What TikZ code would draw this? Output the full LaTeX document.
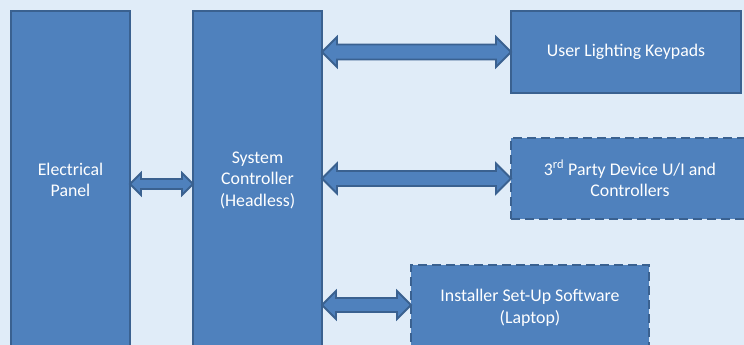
\documentclass[tikz,border=0pt]{standalone}
\usepackage{fontspec}
\setmainfont{Carlito}
\usetikzlibrary{calc}
\definecolor{bg}{HTML}{E0ECF8}
\definecolor{boxfill}{HTML}{4F81BD}
\definecolor{boxline}{HTML}{3A6190}
\newcommand\dblarrow[5]{%
  \draw[arr] let \p1=#1, \p2=#2 in
    (\x1,\y1) -- ({\x1+#5pt},{\y1+#4pt}) -- ({\x1+#5pt},{\y1+#3pt})
    -- ({\x2-#5pt},{\y1+#3pt}) -- ({\x2-#5pt},{\y1+#4pt}) -- (\x2,\y1)
    -- ({\x2-#5pt},{\y1-#4pt}) -- ({\x2-#5pt},{\y1-#3pt})
    -- ({\x1+#5pt},{\y1-#3pt}) -- ({\x1+#5pt},{\y1-#4pt}) -- cycle;}
\begin{document}
\begin{tikzpicture}[x=1pt,y=-1pt,
  blk/.style={fill=boxfill,draw=boxline,line width=2.8pt,text=white,
    font=\fontsize{17.8}{21.5}\selectfont,align=center,inner sep=0pt,
    outer sep=0pt,anchor=north west},
  dsh/.style={dash pattern=on 9pt off 5pt},
  arr/.style={fill=boxfill,draw=boxline,line width=1.8pt,line join=miter}]
\fill[bg] (0,0) rectangle (744,345);
\useasboundingbox (0,0) rectangle (744,345);
\begin{scope}
\clip (0,0) rectangle (744,345);
\node[blk,minimum width=119pt,minimum height=338pt] (ep) at (11,11) {Electrical\\Panel};
\node[blk,minimum width=129pt,minimum height=338pt] (sc) at (193,11) {System\\Controller\\(Headless)};
\node[blk,minimum width=230pt,minimum height=82pt] (ulk) at (511,11) {User Lighting Keypads};
\node[blk,dsh,minimum width=238pt,minimum height=81pt] (tp) at (511,138) {3\textsuperscript{rd} Party Device U/I and\\Controllers};
\node[blk,dsh,minimum width=238pt,minimum height=86pt] (is) at (411,265) {Installer Set-Up Software\\(Laptop)};
\coordinate (epa) at ($(ep.east)+(0,4)$);
\coordinate (isa) at ($(is.west)+(0,-3)$);
\dblarrow{(ep.east |- epa)}{(sc.west |- epa)}{5}{11}{11}
\dblarrow{(sc.east |- ulk.west)}{(ulk.west)}{7.5}{15}{15}
\dblarrow{(sc.east |- tp.west)}{(tp.west)}{7.5}{15}{15}
\dblarrow{(sc.east |- isa)}{(isa)}{7}{14}{14}
\end{scope}
\end{tikzpicture}
\end{document}
